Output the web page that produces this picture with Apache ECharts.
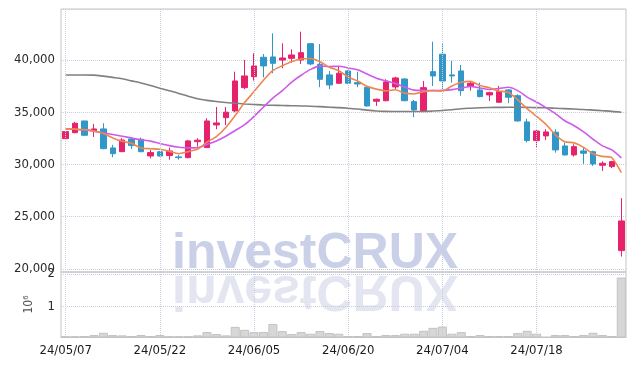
<!DOCTYPE html>
<html>
<head>
<meta charset="utf-8">
<script src="https://cdn.jsdelivr.net/npm/echarts@6/dist/echarts.min.js"></script>
<style>
  html, body { margin: 0; padding: 0; background: #fff; }
  #chart { width: 634px; height: 366px; }
</style>
</head>
<body>
<div id="chart"></div>
<script>
// trading days shown on the chart
const dates = [
  '24/05/07', '24/05/08', '24/05/09', '24/05/10', '24/05/13', '24/05/14', '24/05/16', '24/05/17', '24/05/20', '24/05/21',
  '24/05/22', '24/05/23', '24/05/24', '24/05/27', '24/05/28', '24/05/29', '24/05/30', '24/05/31', '24/06/03', '24/06/04',
  '24/06/05', '24/06/07', '24/06/10', '24/06/11', '24/06/12', '24/06/13', '24/06/14', '24/06/17', '24/06/18', '24/06/19',
  '24/06/20', '24/06/21', '24/06/24', '24/06/25', '24/06/26', '24/06/27', '24/06/28', '24/07/01', '24/07/02', '24/07/03',
  '24/07/04', '24/07/05', '24/07/08', '24/07/09', '24/07/10', '24/07/11', '24/07/12', '24/07/15', '24/07/16', '24/07/17',
  '24/07/18', '24/07/19', '24/07/22', '24/07/23', '24/07/24', '24/07/25', '24/07/26', '24/07/29', '24/07/30', '24/07/31'
]

const opens = [
  32470, 33040, 34160, 33230, 33400, 31580, 31220, 32440, 32410, 30810,
  31220, 30850, 30720, 30650, 32180, 31610, 33780, 34480, 35120, 37350,
  38400, 40260, 40290, 40000, 40160, 40000, 41560, 39590, 38570, 37770,
  38950, 37830, 37390, 36050, 36100, 37420, 38180, 36010, 35120, 38880,
  40550, 38570, 38950, 37450, 37130, 36650, 35950, 37130, 36580, 34070,
  32280, 32730, 33080, 31770, 30910, 31290, 31220, 29920, 29790, 21750
]
const closes = [
  33140, 33940, 32790, 33400, 31510, 31030, 32340, 31800, 31220, 31130,
  30810, 31290, 30650, 32250, 32320, 34160, 33970, 35000, 37990, 38470,
  39430, 39430, 39680, 40190, 40480, 40700, 39620, 38150, 37610, 38730,
  37770, 37700, 35600, 36240, 37900, 38280, 36100, 35220, 37350, 38470,
  37990, 38470, 37060, 37770, 36490, 36870, 36970, 36430, 34160, 32280,
  33200, 33110, 31390, 30910, 31700, 31070, 30050, 30110, 30270, 24590
]
const lows = [
  32400, 32990, 32700, 32630, 31450, 30690, 31200, 31480, 31170, 30590,
  30750, 30460, 30460, 30590, 31700, 31590, 33370, 33780, 35000, 37200,
  38020, 38340, 38730, 39210, 39740, 39620, 39500, 37390, 37200, 37700,
  37700, 37390, 35530, 35600, 36050, 37200, 36050, 34520, 35100, 37510,
  37200, 37830, 36580, 37060, 36430, 36080, 35900, 35860, 34100, 32120,
  31610, 32340, 31130, 30850, 30750, 30050, 29860, 29380, 29640, 21180
]
const highs = [
  33200, 34070, 34160, 33880, 33940, 31870, 32510, 32600, 32570, 31390,
  31300, 31610, 30910, 32340, 32510, 34420, 35500, 35500, 38880, 40000,
  40640, 40570, 42550, 41600, 41020, 42710, 41600, 41530, 38950, 39360,
  39040, 38880, 37450, 36300, 38150, 38400, 38250, 36170, 37990, 41750,
  41530, 39900, 39520, 37930, 37830, 36970, 37510, 37200, 36720, 34380,
  33370, 33370, 33370, 32090, 31930, 31610, 31320, 30310, 30340, 26770
]

// moving averages as drawn
const ma5 = [
  33400, 33380, 33330, 33200, 32956, 32534, 32214, 32016, 31580, 31504,
  31460, 31250, 31020, 31226, 31464, 32134, 32670, 33540, 34688, 35918,
  36972, 38064, 39000, 39440, 39842, 40096, 40134, 39828, 39312, 38962,
  38376, 37992, 37482, 37208, 37042, 37144, 36824, 36748, 36970, 37084,
  37026, 37500, 37868, 37952, 37556, 37332, 37032, 36906, 36184, 35342,
  34608, 33836, 32828, 32178, 32062, 31636, 31024, 30768, 30640, 29218
]
const ma10 = [
  33420, 33360, 33280, 33180, 33020, 32860, 32700, 32520, 32360, 32230,
  32000, 31800, 31650, 31580, 31600, 31900, 32250, 32700, 33250, 33800,
  34600, 35500, 36350, 37064, 37880, 38534, 39099, 39414, 39376, 39402,
  39236, 39063, 38655, 38260, 38002, 37760, 37408, 37115, 37089, 37063,
  37085, 37162, 37308, 37461, 37320, 37179, 37266, 37387, 37068, 36449,
  35970, 35434, 34867, 34181, 33702, 33122, 32411, 31779, 31390, 30620
]
const maLong = [
  38560, 38560, 38560, 38550, 38450, 38330, 38200, 38000, 37800, 37560,
  37300, 37050, 36800, 36530, 36280, 36130, 36020, 35930, 35850, 35790,
  35740, 35690, 35660, 35640, 35620, 35600, 35570, 35530, 35480, 35440,
  35380, 35300, 35200, 35120, 35080, 35070, 35060, 35060, 35070, 35110,
  35160, 35230, 35330, 35380, 35420, 35450, 35460, 35470, 35470, 35460,
  35440, 35420, 35380, 35340, 35300, 35260, 35200, 35140, 35080, 34990
]

// volume, in millions of shares
const volumes = [
  0.09, 0.09, 0.10, 0.13, 0.20, 0.13, 0.12, 0.10, 0.13, 0.10,
  0.13, 0.09, 0.09, 0.09, 0.12, 0.22, 0.16, 0.12, 0.38, 0.29,
  0.22, 0.22, 0.47, 0.25, 0.16, 0.22, 0.17, 0.25, 0.19, 0.17,
  0.10, 0.10, 0.19, 0.10, 0.13, 0.13, 0.17, 0.17, 0.26, 0.35,
  0.39, 0.17, 0.22, 0.10, 0.13, 0.10, 0.10, 0.10, 0.19, 0.26,
  0.17, 0.08, 0.13, 0.13, 0.10, 0.13, 0.20, 0.13, 0.10, 1.89
]

const priceTicks = [20000, 25000, 30000, 35000, 40000]
const volumeTicks = [1, 2]
const labelEvery = 10

const UP = '#e6226d'
const DOWN = '#3197c8'
const GRID_LINE = '#c9cbdf'
const FONT = '"DejaVu Sans Condensed", "DejaVu Sans", sans-serif'
const MARK_FONT = 'bold 50px "Liberation Sans", Arial, sans-serif'

const candles = dates.map((d, i) => [opens[i], closes[i], lows[i], highs[i]])
const markDates = dates.filter((d, i) => i % labelEvery === 0)

// dotted verticals through the labelled days
const vLines = {
  silent: true,
  symbol: ['none', 'none'],
  label: { show: false },
  animation: false,
  lineStyle: { color: GRID_LINE, type: 'dotted', width: 1 },
  data: markDates.map(d => ({ xAxis: d }))
}

const chart = echarts.init(document.getElementById('chart'), null, { renderer: 'canvas' })

chart.setOption({
  animation: false,
  backgroundColor: '#fff',
  textStyle: { fontFamily: FONT },
  grid: [
    { left: 61, right: 8, top: 9, height: 263, show: true, borderColor: '#c4c4c4', borderWidth: 1 },
    { left: 61, right: 8, top: 272, height: 65, show: true, borderColor: '#c4c4c4', borderWidth: 1 }
  ],
  xAxis: [
    {
      type: 'category', gridIndex: 0, data: dates, boundaryGap: true,
      axisLine: { show: false }, axisTick: { show: false }, axisLabel: { show: false },
      splitLine: { show: false }
    },
    {
      type: 'category', gridIndex: 1, data: dates, boundaryGap: true,
      axisLine: { lineStyle: { color: '#c4c4c4' } }, axisTick: { show: false },
      axisLabel: {
        interval: labelEvery - 1, color: '#1a1a1a', fontSize: 13, margin: 7,
        fontFamily: FONT
      },
      splitLine: { show: false }
    }
  ],
  yAxis: [
    {
      type: 'value', gridIndex: 0, min: 19700, max: 44880, splitNumber: 5,
      axisLine: { show: false }, axisTick: { show: false },
      axisLabel: {
        color: '#2a2a2a', fontSize: 13, margin: 6, fontFamily: FONT,
        formatter: v => priceTicks.includes(v) ? v.toLocaleString('en-US') : ''
      },
      splitLine: { lineStyle: { color: GRID_LINE, type: 'dotted' } }
    },
    {
      type: 'value', gridIndex: 1, min: 0.07, max: 2.06, splitNumber: 2,
      name: '10\u2076', nameLocation: 'middle', nameRotate: 90, nameGap: 26,
      nameTextStyle: { color: '#555', fontSize: 12, fontFamily: FONT },
      axisLine: { show: false }, axisTick: { show: false },
      axisLabel: {
        color: '#2a2a2a', fontSize: 13, margin: 6, fontFamily: FONT,
        formatter: v => volumeTicks.includes(v) ? String(v) : ''
      },
      splitLine: { lineStyle: { color: GRID_LINE, type: 'dotted' } }
    }
  ],
  graphic: [
    {
      type: 'text', x: 172, y: 254, z: 0, silent: true,
      style: { text: 'investCRUX', font: MARK_FONT, fill: '#c9d0e7', verticalAlign: 'middle' }
    },
    {
      // mirrored copy below the baseline
      type: 'text', x: 172, y: 254, z: 0, silent: true,
      scaleY: -1, originY: 18,
      style: { text: 'investCRUX', font: MARK_FONT, fill: '#e3e5f1', verticalAlign: 'middle' }
    }
  ],
  series: [
    {
      name: 'price', type: 'candlestick', xAxisIndex: 0, yAxisIndex: 0,
      data: candles, barWidth: 6,
      itemStyle: { color: UP, color0: DOWN, borderColor: UP, borderColor0: DOWN, borderWidth: 1 },
      markLine: vLines
    },
    {
      name: 'MA long', type: 'line', xAxisIndex: 0, yAxisIndex: 0, data: maLong,
      symbol: 'none', smooth: 0.3, lineStyle: { color: '#808080', width: 1.6 }
    },
    {
      name: 'MA10', type: 'line', xAxisIndex: 0, yAxisIndex: 0, data: ma10,
      symbol: 'none', smooth: 0.3, lineStyle: { color: '#cf5ae9', width: 1.6 }
    },
    {
      name: 'MA5', type: 'line', xAxisIndex: 0, yAxisIndex: 0, data: ma5,
      symbol: 'none', smooth: 0.2, lineStyle: { color: '#ee8650', width: 1.6 }
    },
    {
      name: 'volume', type: 'bar', xAxisIndex: 1, yAxisIndex: 1, data: volumes,
      barCategoryGap: '4%',
      itemStyle: { color: '#d7d7d7', borderColor: '#c2c2c2', borderWidth: 1 },
      markLine: vLines
    }
  ]
})
</script>
</body>
</html>
